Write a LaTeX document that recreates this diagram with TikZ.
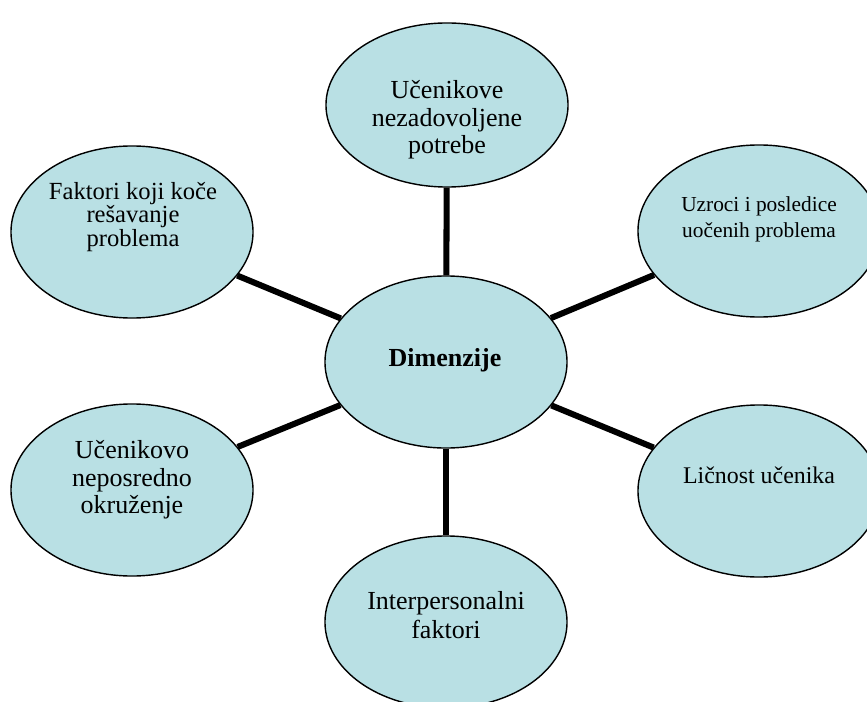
\documentclass[tikz,border=0pt]{standalone}
\usepackage{fontspec}
\setmainfont{Liberation Serif}
\usetikzlibrary{shapes.geometric}
\definecolor{bubble}{RGB}{185,224,228}
\tikzset{bubble/.style={ellipse, draw=black, line width=1pt, fill=bubble, inner sep=0pt, minimum width=6.05cm, minimum height=4.3cm},
         txt/.style={align=center, inner sep=0pt, font=\fontsize{18.5}{19.5}\selectfont},
         link/.style={line width=4.3pt}}

\begin{document}
\begin{tikzpicture}[x=0.025cm, y=-0.025cm]
   \clip (0,0) rectangle (867,702);
   \fill[white] (0,0) rectangle (867,702);
   \node[bubble] (dim)    at (446,362) {};
   \node[bubble, minimum height=4.1cm] (needs) at (447,105) {};
   \node[bubble] (causes) at (759,231) {};
   \node[bubble] (person) at (759,491) {};
   \node[bubble] (inter)  at (446,622) {};
   \node[bubble] (milieu) at (132,490) {};
   \node[bubble] (brakes) at (132,232) {};
   \draw[link] (dim) -- (needs);
   \draw[link] (dim) -- (causes);
   \draw[link] (dim) -- (person);
   \draw[link] (dim) -- (inter);
   \draw[link] (dim) -- (milieu);
   \draw[link] (dim) -- (brakes);
   \node[txt, font=\fontsize{18.5}{19.5}\selectfont\bfseries] (dimtext) at (445,360) {Dimenzije};
   \node[txt] (needstext) at (447,120) {Učenikove\\nezadovoljene\\potrebe};
   \node[txt, font=\fontsize{15.2}{18.3}\selectfont] (causestext) at (759,219) {Uzroci i posledice\\uočenih problema};
   \node[txt, font=\fontsize{17}{18}\selectfont] (persontext) at (759,475) {Ličnost učenika};
   \node[txt, font=\fontsize{18.5}{21}\selectfont] (intertext) at (446,615) {Interpersonalni\\faktori};
   \node[txt] (milieutext) at (132,480) {Učenikovo\\neposredno\\okruženje};
   \node[txt, font=\fontsize{17.5}{17}\selectfont] (brakestext) at (133,217) {Faktori koji koče\\rešavanje\\problema};
\end{tikzpicture}
\end{document}
